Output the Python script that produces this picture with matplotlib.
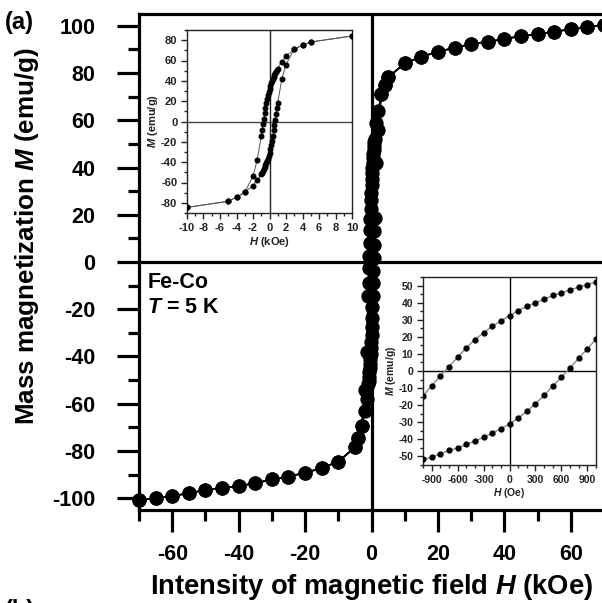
import matplotlib
matplotlib.use("Agg")
import matplotlib.pyplot as plt
import numpy as np
from matplotlib.ticker import MultipleLocator

plt.rcParams['font.family'] = ['Liberation Sans', 'DejaVu Sans']
plt.rcParams['axes.unicode_minus'] = False
plt.rcParams['mathtext.fontset'] = 'custom'
plt.rcParams['mathtext.it'] = 'Liberation Sans:italic'
plt.rcParams['mathtext.bfit'] = 'Liberation Sans:italic:bold'
plt.rcParams['mathtext.bf'] = 'Liberation Sans:bold'

# ---------------- data ----------------
# Low-field loop (inset b, Oe): field steps of 100 Oe
H_low_Oe = [-1000, -900, -800, -700, -600, -500, -400, -300, -200, -100, 0,
            100, 200, 300, 400, 500, 600, 700, 800, 900, 1000]
M_low_desc = [-14.5, -8.7, -2.7, 2.5, 8.1, 13.5, 18.4, 22.3, 26.2, 29.3, 32.4,
              35.3, 37.8, 39.9, 42.0, 44.2, 45.7, 47.5, 49.0, 50.6, 52.1]
M_low_asc = [-51.7, -50.4, -48.5, -46.5, -45.0, -43.0, -41.1, -38.8, -36.4, -33.7, -31.0,
             -27.5, -23.6, -19.2, -14.3, -8.7, -3.7, 1.9, 7.4, 13.0, 18.6]

# Intermediate-field branch points (kOe)
H_mid_pos = [1.5, 2]
M_mid_desc_pos = [59, 64]
M_mid_asc_pos = [42, 56]
H_mid_neg = [-2, -1.5]
M_mid_desc_neg = [-54, -38]
M_mid_asc_neg = [-63, -58]

# Closed-loop high-field points (kOe)
H_high_pos = [3, 4, 5, 10, 15, 20, 25, 30, 35, 40, 45, 50, 55, 60, 65, 70]
M_high_pos = [71.2, 75.0, 78.2, 84.1, 86.9, 89.0, 90.7, 92.2, 93.3, 94.4, 95.7, 96.5, 97.5, 98.6, 99.6, 100.3]
H_high_neg = [-70, -65, -60, -55, -50, -45, -40, -35, -30, -25, -20, -15, -10, -5, -4, -3]
M_high_neg = [-100.8, -100.0, -99.1, -97.9, -96.5, -95.8, -94.8, -93.7, -92.0, -90.9, -89.2, -87.3, -84.5, -78.5, -74.5, -69.5]

main_xticks = [-60, -40, -20, 0, 20, 40, 60]
main_yticks = [-100, -80, -60, -40, -20, 0, 20, 40, 60, 80, 100]

# ---- assemble loop (kOe) ----
H_low_k = [h / 1000 for h in H_low_Oe]
asc_H = H_high_neg + H_mid_neg + H_low_k + H_mid_pos + H_high_pos
asc_M = M_high_neg + M_mid_asc_neg + M_low_asc + M_mid_asc_pos + M_high_pos
desc_H = (H_high_pos[::-1] + H_mid_pos[::-1] + H_low_k[::-1] + H_mid_neg[::-1] + H_high_neg[::-1])
desc_M = (M_high_pos[::-1] + M_mid_desc_pos[::-1] + M_low_desc[::-1] + M_mid_desc_neg[::-1] + M_high_neg[::-1])

fig = plt.figure(figsize=(6.02, 6.03), dpi=100)

# ---------------- main axes ----------------
ax = fig.add_axes([139/602, (603-510)/603, (604-139)/602, 496/603])
for hh, mm in ((desc_H, desc_M), (asc_H, asc_M)):
    ax.plot(hh, mm, '-', color='black', lw=1.3, marker='o', ms=9.3, mfc='black', mec='black',
            zorder=3, clip_on=False)
ax.axhline(0, color='black', lw=2.3, zorder=2)
ax.axvline(0, color='black', lw=2.3, zorder=2)
ax.set_xlim(-70, 70)
ax.set_ylim(-105, 105)
for s in ['left', 'bottom', 'top']:
    ax.spines[s].set_linewidth(2.3)
ax.spines['right'].set_visible(False)
ax.set_xticks(main_xticks)
ax.set_yticks(main_yticks)
ax.xaxis.set_minor_locator(MultipleLocator(10))
ax.yaxis.set_minor_locator(MultipleLocator(10))
ax.tick_params(which='major', direction='out', length=15.5, width=2.3, labelsize=15.5)
ax.tick_params(which='minor', direction='out', length=8, width=2.3)
ax.tick_params(axis='x', which='major', pad=9)
ax.tick_params(axis='y', which='major', pad=16)
for lab in ax.get_xticklabels() + ax.get_yticklabels():
    lab.set_fontweight('bold')
ax.set_xlabel('Intensity of magnetic field $\\mathbfit{H}$ (kOe)', fontsize=19.7, fontweight='bold', labelpad=5)
ax.set_ylabel('Mass magnetization $\\mathbfit{M}$ (emu/g)', fontsize=18.7, fontweight='bold')
ax.yaxis.set_label_coords(-0.21, 0.553)
ax.text(0.018, 0.458, 'Fe-Co', transform=ax.transAxes, fontsize=15.5, fontweight='bold', va='center')
ax.text(0.018, 0.409, '$\\mathbfit{T}$ = 5 K', transform=ax.transAxes, fontsize=15.5, fontweight='bold', va='center')
fig.text(5/602, 1 - 22/603, '(a)', fontsize=17, fontweight='bold', va='center')
fig.text(5/602, 1 - 611/603, '(b)', fontsize=17, fontweight='bold', va='center')

gray = '#222222'
# ---------------- inset 1 (full loop, kOe) ----------------
ax1 = fig.add_axes([187/602, (603-213)/603, 165/602, 183/603])
for hh, mm in ((desc_H, desc_M), (asc_H, asc_M)):
    sel = [(h, m) for h, m in zip(hh, mm) if abs(h) <= 10]
    ax1.plot([p[0] for p in sel], [p[1] for p in sel], '-', color='#555555', lw=0.7,
             marker='o', ms=3.3, mfc='black', mec='black', zorder=3)
ax1.axhline(0, color='#444444', lw=1.0)
ax1.axvline(0, color='#222222', lw=1.0)
ax1.set_xlim(-10, 10)
ax1.set_ylim(-90, 90)
ax1.set_xticks(range(-10, 11, 2))
ax1.set_yticks(range(-80, 81, 20))
ax1.xaxis.set_minor_locator(MultipleLocator(1))
ax1.yaxis.set_minor_locator(MultipleLocator(10))
ax1.tick_params(which='major', direction='out', length=4.5, width=1.0, labelsize=8, pad=2.5, colors=gray)
ax1.tick_params(which='minor', direction='out', length=2.5, width=1.0, colors=gray)
for s in ax1.spines.values():
    s.set_linewidth(1.0)
    s.set_color(gray)
ax1.set_xlabel('$\\mathbfit{H}$ (kOe)', fontsize=8, labelpad=2, color=gray, fontweight='bold')
ax1.set_ylabel('$\\mathbfit{M}$ (emu/g)', fontsize=8, labelpad=1, color=gray, fontweight='bold')
for lab in ax1.get_xticklabels() + ax1.get_yticklabels():
    lab.set_fontweight('bold')

# ---------------- inset 2 (low field, Oe) ----------------
ax2 = fig.add_axes([423/602, (603-465)/603, 173/602, 188/603])
for mm in (M_low_desc, M_low_asc):
    ax2.plot(H_low_Oe, mm, '-', color='#888888', lw=1.0, marker='o', ms=3.5, mfc='black', mec='black', zorder=3)
ax2.axhline(0, color='black', lw=1.0)
ax2.axvline(0, color='black', lw=1.0)
ax2.set_xlim(-1000, 1000)
ax2.set_ylim(-55, 55)
ax2.set_xticks(range(-900, 901, 300))
ax2.set_yticks(range(-50, 51, 10))
ax2.xaxis.set_minor_locator(MultipleLocator(100))
ax2.yaxis.set_minor_locator(MultipleLocator(5))
ax2.tick_params(which='major', direction='out', length=4.5, width=1.0, labelsize=7.5, pad=2.5, colors=gray)
ax2.tick_params(which='minor', direction='out', length=2.5, width=1.0, colors=gray)
for s in ax2.spines.values():
    s.set_linewidth(1.0)
    s.set_color(gray)
ax2.set_xlabel('$\\mathbfit{H}$ (Oe)', fontsize=7.5, labelpad=1, color=gray, fontweight='bold')
ax2.set_ylabel('$\\mathbfit{M}$ (emu/g)', fontsize=7.5, labelpad=0, color=gray, fontweight='bold')
for lab in ax2.get_xticklabels() + ax2.get_yticklabels():
    lab.set_fontweight('bold')

fig.savefig('out.png', dpi=100)
